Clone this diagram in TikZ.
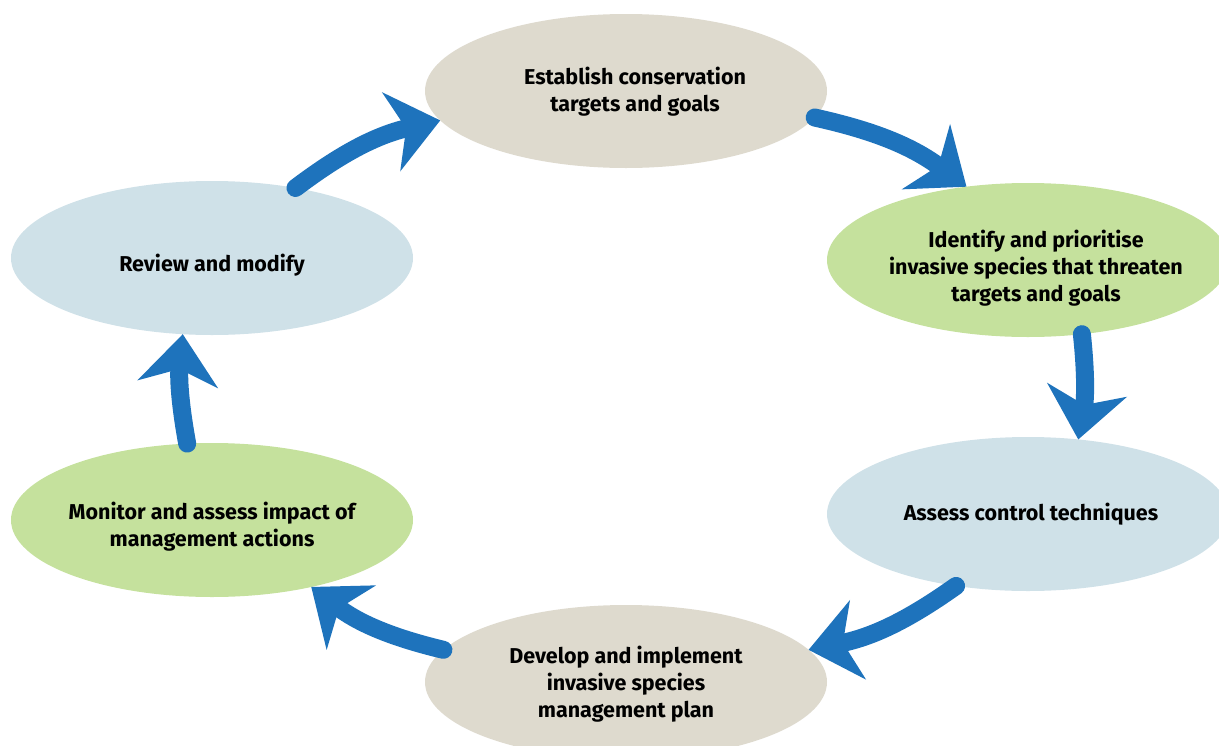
\documentclass[tikz,border=0pt]{standalone}
\usepackage{fontspec}
\setmainfont{Fira Sans}
\usetikzlibrary{shapes.geometric, arrows.meta}
\definecolor{StageSand}{RGB}{222,218,206}
\definecolor{StageLeaf}{RGB}{197,225,157}
\definecolor{StageSky}{RGB}{207,225,232}
\definecolor{CycleBlue}{RGB}{30,115,188}

\begin{document}
\begin{tikzpicture}[
            x=1pt, y=-1pt,
            font=\fontsize{21.5}{27}\selectfont\bfseries,
            stage/.style={ellipse, inner sep=0pt, outer sep=0pt, minimum width=402pt, minimum height=154pt},
            sand/.style={stage, fill=StageSand},
            leaf/.style={stage, fill=StageLeaf},
            sky/.style={stage, fill=StageSky},
            txt/.style={align=center, inner sep=0pt},
            arrow/.style={line width=18pt, line cap=round, CycleBlue, -{Stealth[length=50pt, width=80pt, inset=15pt]}}
        ]
            \clip (0,0) rectangle (1219,745);

            \node[sand] (establish) at (626,91) {};
            \node[leaf] (identify) at (1028,260) {};
            \node[sky] (assess) at (1028,514) {};
            \node[sand] (develop) at (626,682) {};
            \node[leaf] (monitor) at (212,520) {};
            \node[sky] (review) at (212,258) {};

            \node[txt] (establish-text) at (635,92) {Establish conservation\\targets and goals};
            \node[txt] (identify-text) at (1036,268) {Identify and prioritise\\invasive species that threaten\\targets and goals};
            \node[txt] (assess-text) at (1031,514) {Assess control techniques};
            \node[txt] (develop-text) at (626,684) {Develop and implement\\invasive species\\management plan};
            \node[txt] (monitor-text) at (212,527) {Monitor and assess impact of\\management actions};
            \node[txt] (review-text) at (212,265) {Review and modify};

            \draw[arrow] (review.40) to[bend left=12] (establish.189);
            \draw[arrow] (establish.-8) to[bend left=12] (identify.130);
            \draw[arrow] (identify.-54) to[bend left=8] (assess.56);
            \draw[arrow] (assess.225) to[bend left=12] (develop.10);
            \draw[arrow] (develop.170) to[bend left=12] (monitor.-34);
            \draw[arrow] (monitor.108) to[bend left=8] (review.-111);
        \end{tikzpicture}
\end{document}
